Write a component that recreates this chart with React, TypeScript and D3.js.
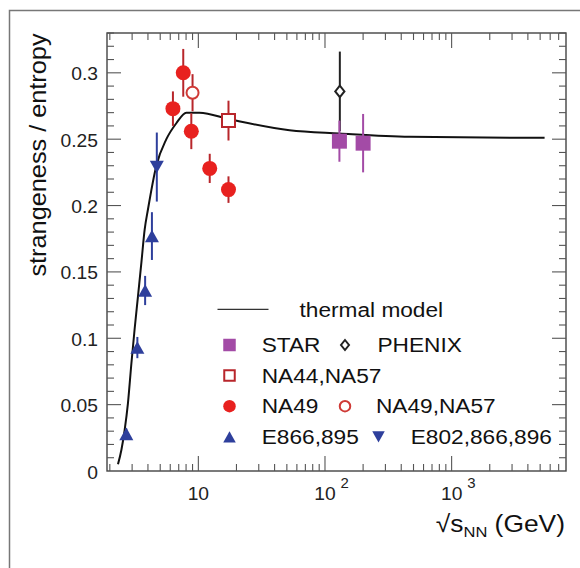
import React from "react";
import * as d3 from "d3";

// ---------- data ----------
const thermalEnergy = [2.32, 2.47, 2.62, 2.78, 2.96, 3.14, 3.34, 3.55, 3.77, 4.0, 4.66, 5.59, 6.7, 8.04, 10.2, 17.7, 52.5, 130, 466, 5420];
const thermalValue = [0.005, 0.016, 0.031, 0.051, 0.081, 0.107, 0.132, 0.157, 0.182, 0.197, 0.23, 0.25, 0.262, 0.27, 0.27, 0.265, 0.2567, 0.2543, 0.2518, 0.251];

const e866Energy = [2.7, 3.3, 3.8, 4.3];
const e866Value = [0.028, 0.093, 0.136, 0.177];
const e866Err = [0.004, 0.008, 0.011, 0.018];

const e802Energy = [4.7];
const e802Value = [0.229];
const e802Err = [0.026];

const na49Energy = [6.3, 7.6, 8.8, 12.3, 17.3];
const na49Value = [0.273, 0.3, 0.256, 0.228, 0.212];
const na49Err = [0.013, 0.018, 0.0135, 0.011, 0.01];

const na4957Energy = [9.0];
const na4957Value = [0.285];
const na4957Err = [0.014];

const na4457Energy = [17.3];
const na4457Value = [0.264];
const na4457Err = [0.015];

const starEnergy = [130, 200];
const starValue = [0.2485, 0.247];
const starErr = [0.0155, 0.022];

const phenixEnergy = [131];
const phenixValue = [0.286];
const phenixErr = [0.03];

const yTickLabels = ["0", "0.05", "0.1", "0.15", "0.2", "0.25", "0.3"];
const xMajorTicks = [10, 100, 1000];
const xMajorLabels = [["10", ""], ["10", "2"], ["10", "3"]];

// ---------- layout ----------
const W = 580, H = 568;
const L = 107, R = 566, T = 33, B = 471;
const FONT = "'Liberation Sans', Arial, Helvetica, sans-serif";

const RED = "#e8211f";
const RED_DARK = "#b8262b";
const RED_OPEN = "#cf3a36";
const BLUE = "#2e3f9c";
const MAGENTA = "#a34ba6";
const AXIS = "#444";

type Shape = "square" | "openSquare" | "circle" | "openCircle" | "up" | "down" | "diamond";

function markerPath(shape: Shape, cx: number, cy: number, s: number): string {
  const h = s / 2;
  if (shape === "square" || shape === "openSquare")
    return `M${cx - h},${cy - h}h${s}v${s}h${-s}Z`;
  if (shape === "up")
    return `M${cx - h},${cy + h * 0.9}L${cx + h},${cy + h * 0.9}L${cx},${cy - h * 0.9}Z`;
  if (shape === "down")
    return `M${cx - h},${cy - h * 0.9}L${cx + h},${cy - h * 0.9}L${cx},${cy + h * 0.9}Z`;
  if (shape === "diamond")
    return `M${cx},${cy - h}L${cx + h * 0.8},${cy}L${cx},${cy + h}L${cx - h * 0.8},${cy}Z`;
  return "";
}

function Marker({ shape, cx, cy, s, color }: { shape: Shape; cx: number; cy: number; s: number; color: string }) {
  if (shape === "circle") return <circle cx={cx} cy={cy} r={s / 2} fill={color} />;
  if (shape === "openCircle")
    return <circle cx={cx} cy={cy} r={s / 2 - 1} fill="white" stroke={color} strokeWidth={2} />;
  const open = shape === "openSquare" || shape === "diamond";
  return (
    <path
      d={markerPath(shape, cx, cy, open ? s - 2 : s)}
      fill={open ? "white" : color}
      stroke={open ? color : "none"}
      strokeWidth={open ? 2 : 0}
    />
  );
}

export default function App() {
  const x = d3.scaleLog().domain([1.9, 8000]).range([L, R]);
  const y = d3.scaleLinear().domain([0, 0.33]).range([B, T]);

  const line = d3
    .line<number>()
    .x((d, i) => x(thermalEnergy[i]))
    .y((d) => y(d))
    .curve(d3.curveMonotoneX);

  // ticks
  const xMinor: number[] = [];
  for (let dec = 1; dec <= 1000; dec *= 10) {
    for (let k = 2; k <= 9; k++) {
      const v = k * dec;
      if (v > 1.9 && v < 7990) xMinor.push(v);
    }
  }
  const yTicks = d3.range(0, 34).map((i) => i / 100);

  const series: { e: number[]; v: number[]; err: number[]; shape: Shape; color: string; errColor: string; size: number }[] = [
    { e: phenixEnergy, v: phenixValue, err: phenixErr, shape: "diamond", color: "#222", errColor: "#222", size: 13.5 },
    { e: starEnergy, v: starValue, err: starErr, shape: "square", color: MAGENTA, errColor: MAGENTA, size: 15 },
    { e: na4457Energy, v: na4457Value, err: na4457Err, shape: "openSquare", color: RED_DARK, errColor: RED_DARK, size: 15 },
    { e: na49Energy, v: na49Value, err: na49Err, shape: "circle", color: RED, errColor: RED_DARK, size: 15 },
    { e: na4957Energy, v: na4957Value, err: na4957Err, shape: "openCircle", color: RED_OPEN, errColor: RED_DARK, size: 14 },
    { e: e866Energy, v: e866Value, err: e866Err, shape: "up", color: BLUE, errColor: BLUE, size: 14 },
    { e: e802Energy, v: e802Value, err: e802Err, shape: "down", color: BLUE, errColor: BLUE, size: 14 },
  ];

  const legendRows: { shape: Shape; color: string; label: string; shape2?: Shape; color2?: string; label2?: string; mx2?: number; tx2?: number }[] = [
    { shape: "square", color: MAGENTA, label: "STAR", shape2: "diamond", color2: "#222", label2: "PHENIX", mx2: 345, tx2: 377.5 },
    { shape: "openSquare", color: RED_DARK, label: "NA44,NA57" },
    { shape: "circle", color: RED, label: "NA49", shape2: "openCircle", color2: RED_OPEN, label2: "NA49,NA57", mx2: 345, tx2: 376 },
    { shape: "up", color: BLUE, label: "E866,895", shape2: "down", color2: BLUE, label2: "E802,866,896", mx2: 378.5, tx2: 410.7 },
  ];
  const legScale = 1.08;
  const legFont = 21;

  return (
    <svg
      width={W}
      height={H}
      style={{ position: "absolute", left: 0, top: 0, background: "white", fontFamily: FONT }}
    >
      <rect x={0} y={0} width={W} height={H} fill="white" />
      {/* outer frame (cut off at right/bottom) */}
      <path d={`M9.5,${H + 2}V10.5H${W + 2}`} fill="none" stroke="#777" strokeWidth={1.5} />

      {/* plot frame */}
      <rect x={L} y={T} width={R - L} height={B - T} fill="none" stroke={AXIS} strokeWidth={1.4} />

      {/* y ticks (left and right, inward) */}
      {yTicks.map((t, i) => {
        const major = i % 5 === 0;
        const len = major ? 14 : 7;
        const yy = y(t);
        if (i === 0) return null;
        return (
          <g key={"yt" + i} stroke="#555" strokeWidth={1.1}>
            <line x1={L} x2={L + len} y1={yy} y2={yy} />
            <line x1={R} x2={R - len} y1={yy} y2={yy} />
          </g>
        );
      })}
      {/* x ticks (bottom and top, inward) */}
      {xMinor.map((v, i) => (
        <g key={"xm" + i} stroke="#555" strokeWidth={1.1}>
          <line x1={x(v)} x2={x(v)} y1={B} y2={B - 7} />
          <line x1={x(v)} x2={x(v)} y1={T} y2={T + 7} />
        </g>
      ))}
      {xMajorTicks.map((v, i) => (
        <g key={"xM" + i} stroke="#555" strokeWidth={1.1}>
          <line x1={x(v)} x2={x(v)} y1={B} y2={B - 15} />
          <line x1={x(v)} x2={x(v)} y1={T} y2={T + 15} />
        </g>
      ))}

      {/* y tick labels */}
      {yTickLabels.map((lab, i) => (
        <text
          key={"yl" + i}
          transform={`translate(98,${y(i * 0.05) + 7.5}) scale(1.07,1)`}
          textAnchor="end"
          fontSize={18}
          fill="#222"
        >
          {lab}
        </text>
      ))}
      {/* x tick labels */}
      {xMajorTicks.map((v, i) => (
        <g key={"xl" + i}>
          <text transform={`translate(${x(v)},500) scale(1.07,1)`} textAnchor="middle" fontSize={18} fill="#222">
            {xMajorLabels[i][0]}
          </text>
          {xMajorLabels[i][1] && (
            <text transform={`translate(${x(v) + 15.5},488) scale(1.07,1)`} fontSize={14} fill="#222">
              {xMajorLabels[i][1]}
            </text>
          )}
        </g>
      ))}

      {/* axis titles */}
      <text
        transform={`translate(46,155) rotate(-90) scale(1.1,1)`}
        textAnchor="middle"
        fontSize={23}
        fill="#111"
      >
        strangeness / entropy
      </text>
      <text transform={`translate(565,531.5) scale(1.1,1)`} textAnchor="end" fontSize={24} fill="#111">
        √s
        <tspan dy={5} fontSize={15}>NN</tspan>
        <tspan dy={-5}> (GeV)</tspan>
      </text>

      {/* thermal model */}
      <path d={line(thermalValue) || ""} fill="none" stroke="#111" strokeWidth={2} />

      {/* error bars */}
      {series.map((s, si) =>
        s.e.map((e, i) => (
          <line
            key={`eb${si}-${i}`}
            x1={x(e)}
            x2={x(e)}
            y1={y(s.v[i] - s.err[i])}
            y2={y(s.v[i] + s.err[i])}
            stroke={s.errColor}
            strokeWidth={2}
          />
        ))
      )}
      {/* markers */}
      {series.map((s, si) =>
        s.e.map((e, i) => (
          <Marker key={`mk${si}-${i}`} shape={s.shape} cx={x(e)} cy={y(s.v[i])} s={s.size} color={s.color} />
        ))
      )}

      {/* legend */}
      <line x1={217.5} x2={268.5} y1={309.3} y2={309.3} stroke="#333" strokeWidth={1.3} />
      <text transform={`translate(299.5,316.7) scale(${legScale},1)`} fontSize={legFont} fill="#111">
        thermal model
      </text>
      {legendRows.map((r, i) => {
        const cy = 345 + i * 30.6;
        const base = 351.9 + i * 30.6;
        return (
          <g key={"lg" + i}>
            <Marker shape={r.shape} cx={229.5} cy={cy} s={12.5} color={r.color} />
            <text transform={`translate(261.7,${base}) scale(${legScale},1)`} fontSize={legFont} fill="#111">
              {r.label}
            </text>
            {r.shape2 && (
              <>
                <Marker shape={r.shape2} cx={r.mx2!} cy={cy} s={r.shape2 === "diamond" ? 12 : 12.5} color={r.color2!} />
                <text transform={`translate(${r.tx2},${base}) scale(${legScale},1)`} fontSize={legFont} fill="#111">
                  {r.label2}
                </text>
              </>
            )}
          </g>
        );
      })}
    </svg>
  );
}
